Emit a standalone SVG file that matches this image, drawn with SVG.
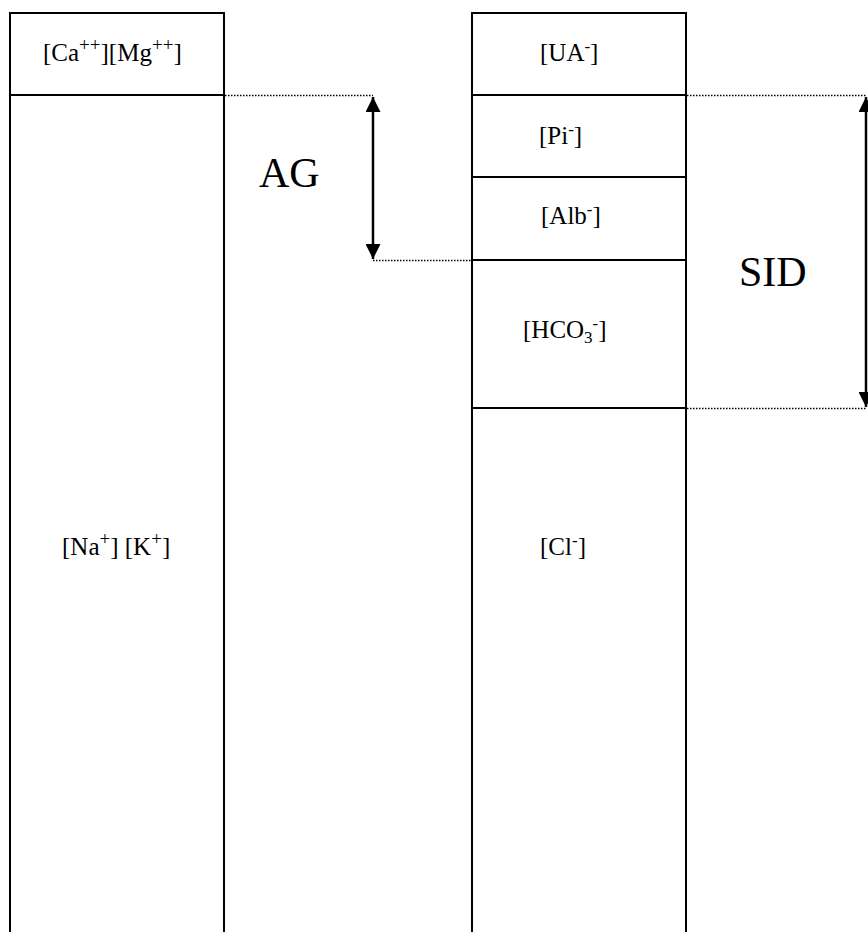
<svg xmlns="http://www.w3.org/2000/svg" width="868" height="932" viewBox="0 0 868 932">
<style>
.col{fill:none;stroke:#000;stroke-width:2}
.div{stroke:#000;stroke-width:2}
.dot{stroke:#000;stroke-width:1.3;stroke-dasharray:1.5 1.5;fill:none}
.arr{stroke:#000;stroke-width:2.5;fill:none}
.lbl{font-family:"Liberation Serif","Times New Roman",serif;font-size:25px;fill:#000}
.big{font-family:"Liberation Serif","Times New Roman",serif;font-size:42px;fill:#000}
.sup{font-size:19px}
.sm{font-size:17px}
</style>
<defs>
<marker id="ah" viewBox="0 0 10 10" refX="10" refY="5" markerWidth="6" markerHeight="6" markerUnits="strokeWidth" orient="auto">
<path d="M0,0 L10,5 L0,10 Z" fill="#000"/>
</marker>
</defs>
<g id="cations">
<path class="col" d="M10,932 V13 H224 V932"/>
<line class="div" x1="10" y1="95" x2="224" y2="95"/>
<text class="lbl" x="43" y="61">[Ca<tspan class="sup" dy="-10">++</tspan><tspan dy="10">][Mg</tspan><tspan class="sup" dy="-10">++</tspan><tspan dy="10">]</tspan></text>
<text class="lbl" x="62" y="555">[Na<tspan class="sup" dy="-10">+</tspan><tspan dy="10">] [K</tspan><tspan class="sup" dy="-10">+</tspan><tspan dy="10">]</tspan></text>
</g>
<g id="anions">
<path class="col" d="M472,932 V13 H686 V932"/>
<line class="div" x1="472" y1="95" x2="686" y2="95"/>
<line class="div" x1="472" y1="177" x2="686" y2="177"/>
<line class="div" x1="472" y1="260" x2="686" y2="260"/>
<line class="div" x1="472" y1="408" x2="686" y2="408"/>
<text class="lbl" x="540" y="61">[UA<tspan class="sm" dy="-9">-</tspan><tspan dy="9">]</tspan></text>
<text class="lbl" x="539" y="144">[Pi<tspan class="sm" dy="-9">-</tspan><tspan dy="9">]</tspan></text>
<text class="lbl" x="541" y="224">[Alb<tspan class="sm" dy="-9">-</tspan><tspan dy="9">]</tspan></text>
<text class="lbl" x="523" y="338">[HCO<tspan class="sm" dy="5">3</tspan><tspan class="sm" dy="-14">-</tspan><tspan dy="9">]</tspan></text>
<text class="lbl" x="540" y="555">[Cl<tspan class="sm" dy="-9">-</tspan><tspan dy="9">]</tspan></text>
</g>
<g id="AG">
<text class="big" x="259" y="187">AG</text>
</g>
<g id="SID">
<text class="big" x="739" y="286">SID</text>
</g>
<g id="connectors">
<line class="dot" x1="225" y1="95.5" x2="373" y2="95.5"/>
<line class="dot" x1="373" y1="260.5" x2="472" y2="260.5"/>
<line class="dot" x1="687" y1="95.5" x2="866" y2="95.5"/>
<line class="dot" x1="687" y1="408.5" x2="866" y2="408.5"/>
<line class="arr" x1="373" y1="178" x2="373" y2="97" marker-end="url(#ah)"/>
<line class="arr" x1="373" y1="178" x2="373" y2="259" marker-end="url(#ah)"/>
<line class="arr" x1="866" y1="250" x2="866" y2="97" marker-end="url(#ah)"/>
<line class="arr" x1="866" y1="250" x2="866" y2="407" marker-end="url(#ah)"/>
</g>
</svg>
